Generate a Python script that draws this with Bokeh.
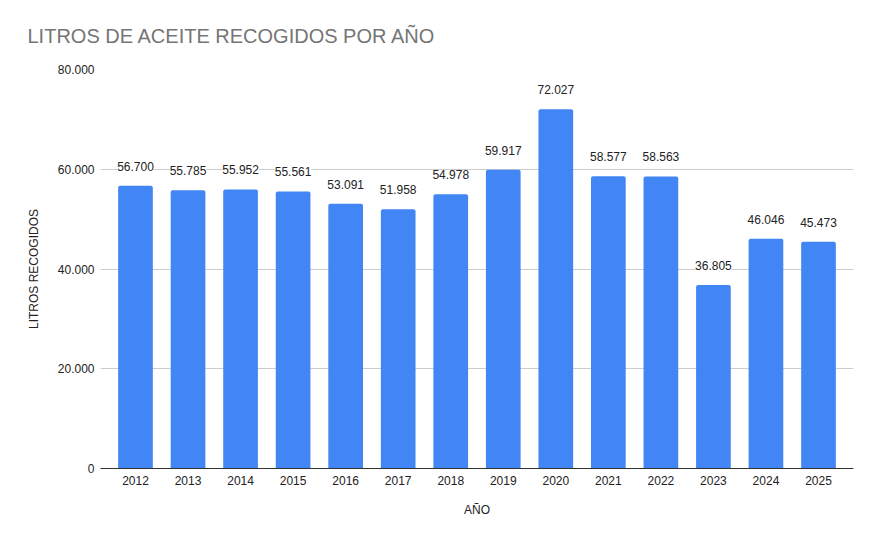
from bokeh.plotting import figure
from bokeh.models import ColumnDataSource, FactorRange, Range1d, FixedTicker, LabelSet, Title
from bokeh.core.properties import value
from bokeh.embed import file_html
from bokeh.resources import INLINE

years = ["2012", "2013", "2014", "2015", "2016", "2017", "2018", "2019",
         "2020", "2021", "2022", "2023", "2024", "2025"]
litros = [56700, 55785, 55952, 55561, 53091, 51958, 54978, 59917,
          72027, 58577, 58563, 36805, 46046, 45473]
y_ticks = [0, 20000, 40000, 60000, 80000]
y_tick_labels = ["0", "20.000", "40.000", "60.000", "80.000"]
title_text = "LITROS DE ACEITE RECOGIDOS POR AÑO"

def fmt(v):
    return "{:,}".format(v).replace(",", ".")

src = ColumnDataSource(dict(x=years, y=litros, lbl=[fmt(v) for v in litros]))

FONT = "Liberation Sans"
p = figure(width=878, height=533, output_backend="svg", toolbar_location=None,
           x_range=FactorRange(*years, range_padding=0.166, range_padding_units="absolute"),
           y_range=Range1d(0, 80000),
           min_border_left=100, min_border_right=25, min_border_bottom=65, min_border_top=69)
p.title = Title(text=title_text, text_font=FONT,
                text_font_size="20px", text_font_style="normal", text_color="#757575",
                offset=-73, standoff=45)
p.outline_line_color = None
p.background_fill_color = "white"
p.border_fill_color = "white"

p.vbar(x="x", top="y", width=0.66, source=src, color="#4285F4", line_color=None,
       border_radius=(2, 2, 0, 0))

labels = LabelSet(x="x", y="y", text="lbl", source=src, text_align="center",
                  text_baseline="alphabetic", y_offset=15, text_font=value(FONT),
                  text_font_size="12px", text_color="#222222",
                  background_fill_color="white")
p.add_layout(labels)

p.yaxis.ticker = FixedTicker(ticks=y_ticks)
p.yaxis.major_label_overrides = {t: l for t, l in zip(y_ticks, y_tick_labels)}
p.yaxis.axis_line_color = None
p.yaxis.major_tick_line_color = None
p.yaxis.minor_tick_line_color = None
p.yaxis.major_tick_out = 0
p.yaxis.major_label_standoff = 6
p.yaxis.axis_label = "LITROS RECOGIDOS"
p.yaxis.axis_label_standoff = 14

p.xaxis.axis_line_color = "#333333"
p.xaxis.axis_line_width = 1
p.xaxis.major_tick_line_color = None
p.xaxis.minor_tick_line_color = None
p.xaxis.major_tick_out = 0
p.xaxis.major_label_standoff = 7
p.xaxis.axis_label = "AÑO"
p.xaxis.axis_label_standoff = 15

for ax in (p.xaxis, p.yaxis):
    ax.major_label_text_font = FONT
    ax.major_label_text_font_size = "12px"
    ax.major_label_text_color = "#222222"
    ax.axis_label_text_font = FONT
    ax.axis_label_text_font_size = "12px"
    ax.axis_label_text_font_style = "normal"
    ax.axis_label_text_color = "#222222"

p.xgrid.grid_line_color = None
p.ygrid.grid_line_color = "#cccccc"
p.ygrid.ticker = FixedTicker(ticks=y_ticks)

open("out.html", "w").write(file_html(p, INLINE))
